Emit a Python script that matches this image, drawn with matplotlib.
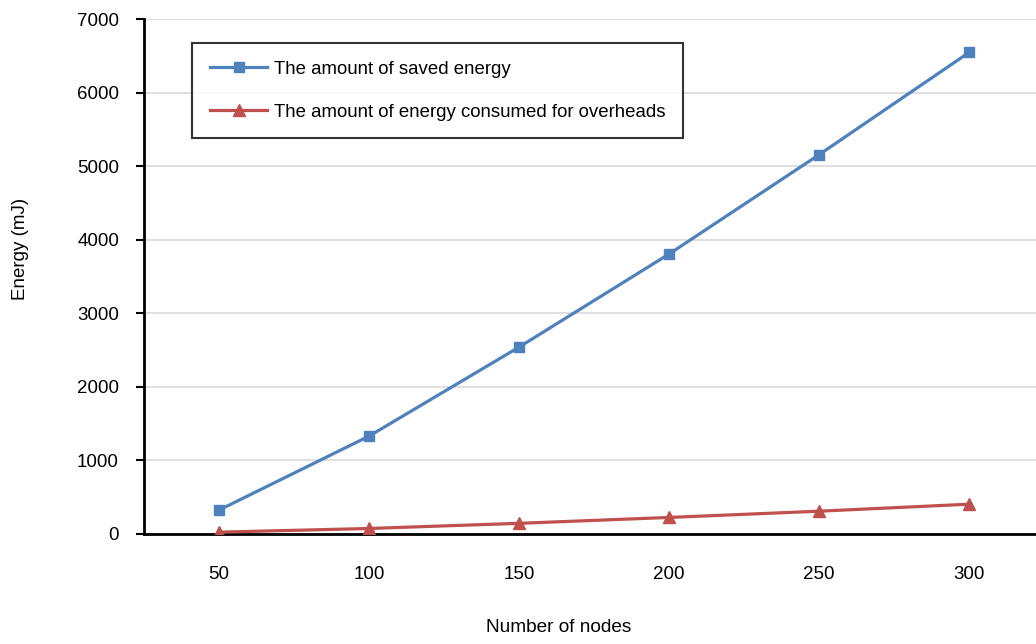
import matplotlib
matplotlib.use("Agg")
import matplotlib.pyplot as plt

# data
nodes = [50, 100, 150, 200, 250, 300]
saved_energy = [325, 1330, 2540, 3805, 5155, 6545]
overhead_energy = [25, 75, 145, 225, 310, 405]

plt.rcParams['font.family'] = ['Liberation Sans', 'DejaVu Sans']

fig = plt.figure(figsize=(10.36, 6.44), dpi=100)
ax = fig.add_axes([144 / 1036, 1 - 534 / 644, 1 - 144 / 1036, (534 - 19) / 644])

xpos = list(range(len(nodes)))
ax.plot(xpos, saved_energy, color='#4F81BD', lw=2.3, marker='s', ms=7,
        label='The amount of saved energy', zorder=3)
ax.plot(xpos, overhead_energy, color='#C0504D', lw=2.3, marker='^', ms=9,
        label='The amount of energy consumed for overheads', zorder=3)

ax.set_xlim(-0.5, (1036 - 219) / 150)
ax.set_ylim(0, 7000)
ax.set_yticks(range(0, 7001, 1000))
ax.set_xticks(xpos)
ax.set_xticklabels([str(n) for n in nodes])
ax.grid(axis='y', color='#D9D9D9', lw=1.2)
ax.set_axisbelow(True)

for s in ['top', 'right']:
    ax.spines[s].set_visible(False)
ax.spines['left'].set_linewidth(2)
ax.spines['bottom'].set_linewidth(2)
ax.tick_params(axis='y', length=6, width=1.5, pad=12, labelsize=13.5)
ax.tick_params(axis='x', length=0, pad=23, labelsize=13.5)

fig.text(559 / 1036, 1 - 628 / 644, 'Number of nodes', ha='center', va='center', fontsize=13.7)
fig.text(21 / 1036, 1 - 249 / 644, 'Energy (mJ)', ha='center', va='center',
         rotation=90, fontsize=13.5)

leg = ax.legend(loc='upper left', bbox_to_anchor=(192 / 1036, 1 - 43 / 644),
                bbox_transform=fig.transFigure, borderaxespad=0,
                frameon=True, fancybox=False, fontsize=13.4, handlelength=3.1,
                borderpad=0.95, labelspacing=1.4, handletextpad=0.35)
leg.get_frame().set_edgecolor('black')
leg.get_frame().set_linewidth(1.5)

fig.savefig('out.png', dpi=100)
